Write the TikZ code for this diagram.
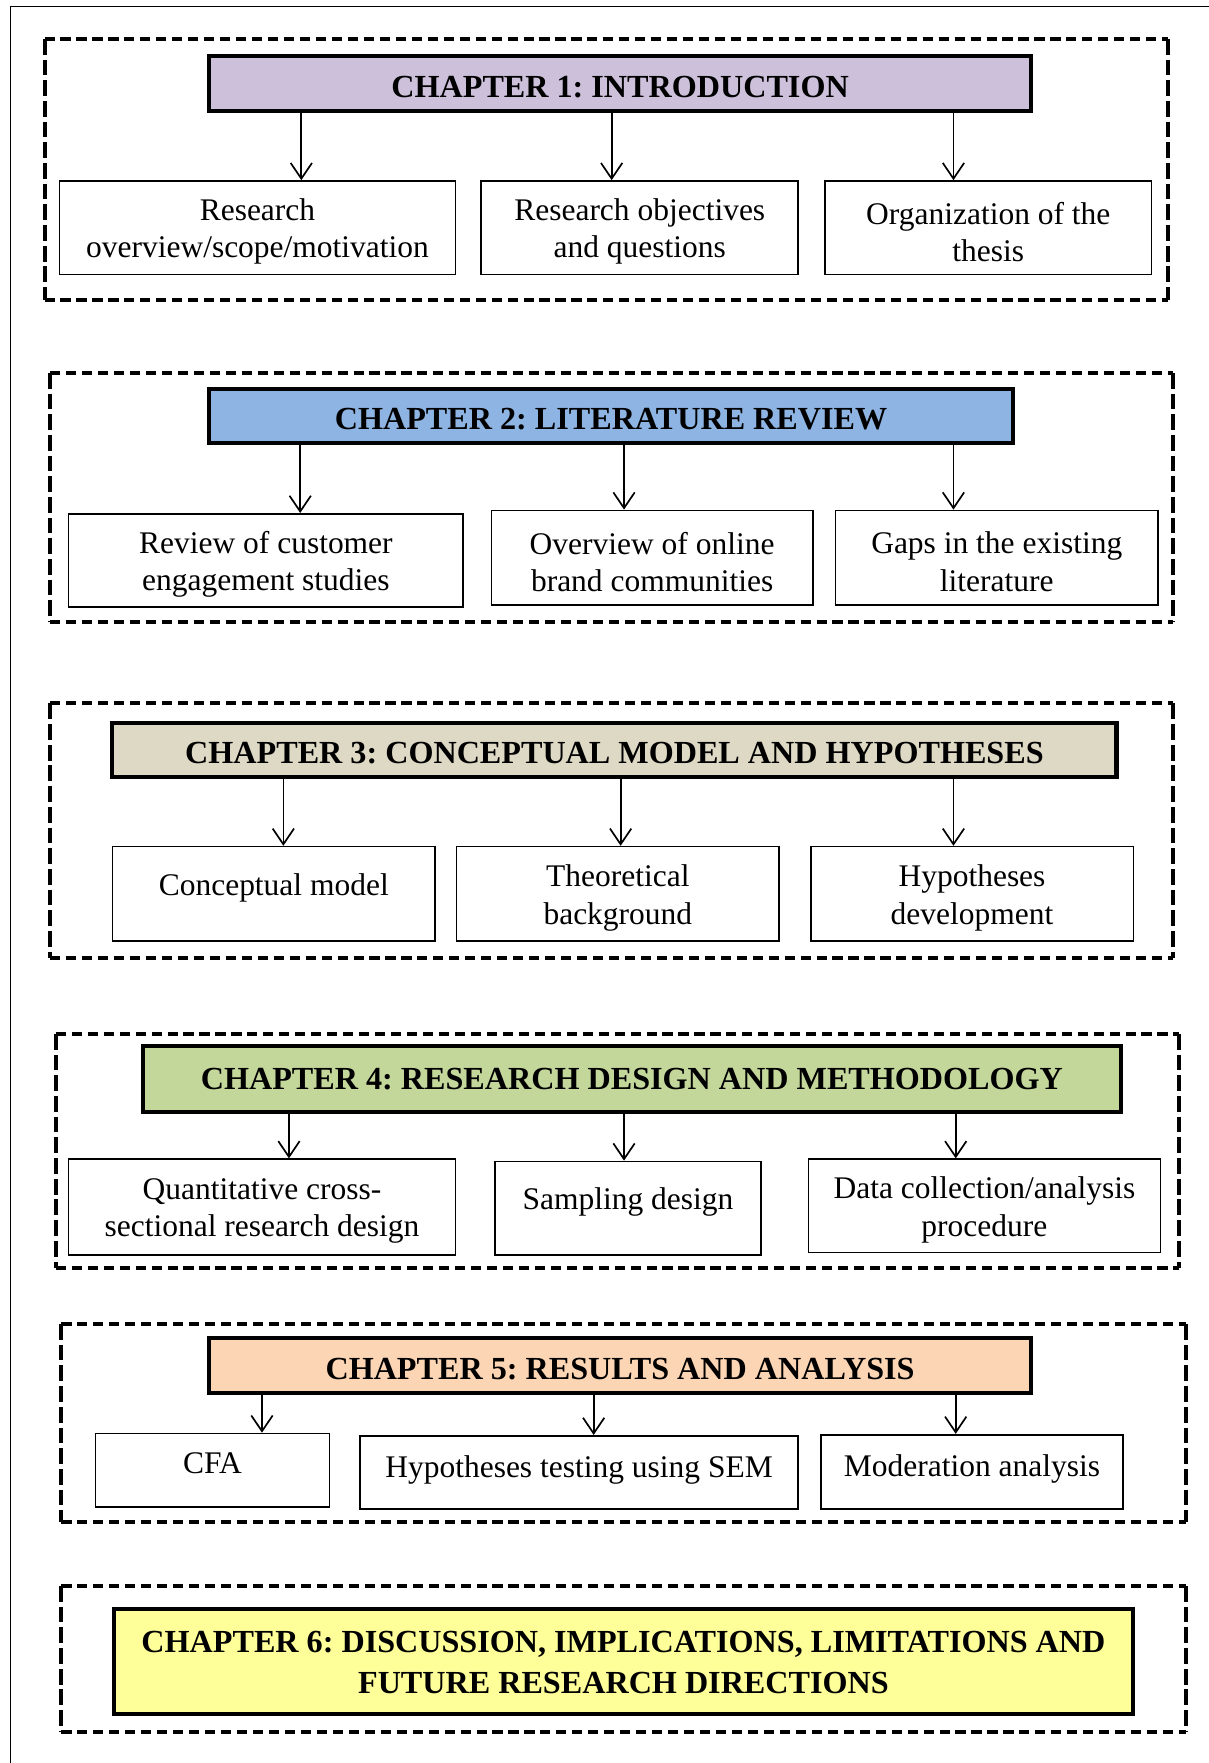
\documentclass[tikz,border=0pt]{standalone}
\usepackage{fontspec}
\setmainfont{Liberation Serif}
\frenchspacing
\usetikzlibrary{arrows.meta,fit,calc}
\definecolor{chone}{HTML}{CCC0DA}
\definecolor{chtwo}{HTML}{8DB4E2}
\definecolor{chthree}{HTML}{DDD9C4}
\definecolor{chfour}{HTML}{C4D79B}
\definecolor{chfive}{HTML}{FCD5B4}
\definecolor{chsix}{HTML}{FFFF99}
\begin{document}
\begin{tikzpicture}[x=0.5pt,y=-0.5pt,
  pageline/.style={line width=0.5pt},
  group/.style={inner sep=0pt},
  hdash/.style={line width=1.8pt, dash pattern=on 4.5pt off 2.6pt},
  vdash/.style={line width=1.8pt, dash pattern=on 7pt off 2.2pt},
  head/.style={draw, line width=1.8pt, inner sep=0pt},
  headtext/.style={align=center, yshift=-1.5pt,
    font=\fontsize{14.3}{18.5}\selectfont\bfseries},
  sub/.style={draw, line width=0.75pt, inner sep=0pt},
  subtext/.style={align=center, yshift=-1.8pt,
    font=\fontsize{14}{16.5}\selectfont},
  link/.style={line width=0.75pt, -{Straight Barb[length=7pt,width=9.5pt,line width=0.75pt]}}]
\useasboundingbox (0,0) rectangle (1075,1568);
% page rule on the top and left
\draw[pageline] (9,1568) -- (9,6) -- (1075,6);

% dashed outline of a chapter group: long dashes on the sides, short ones on top and bottom
\newcommand\groupframe[1]{%
  \draw[hdash] (#1.north west) -- (#1.north east);
  \draw[hdash] (#1.south west) -- (#1.south east);
  \draw[vdash] (#1.north west) -- (#1.south west);
  \draw[vdash] (#1.north east) -- (#1.south east);}

% ---------- Chapter 1 ----------
\node[group, fit={(40,35)(1038,266)}] (g1) {};
\groupframe{g1}
\node[head, fill=chone, fit={(186,50)(917,99)}] (h1) {};
\node[headtext] at (h1.center) {CHAPTER 1: INTRODUCTION};
\node[sub, fit={(53,161)(405,244)}] (a1) {};
\node[sub, fit={(428,161)(710,244)}] (b1) {};
\node[sub, fit={(734,161)(1024,244)}] (c1) {};
\node[subtext] at (a1.center) {Research\\overview/scope/motivation};
\node[subtext] at (b1.center) {Research objectives\\and questions};
\node[subtext] at (c1.center) {Organization of the\\thesis};
\coordinate (ta1) at ($(a1.north)+(39,0)$);
\coordinate (tb1) at ($(b1.north)+(-25,0)$);
\coordinate (tc1) at ($(c1.north)+(-31,0)$);
\foreach \t in {ta1,tb1,tc1} \draw[link] (h1.south -| \t) -- (\t);

% ---------- Chapter 2 ----------
\node[group, fit={(45,332)(1043,553)}] (g2) {};
\groupframe{g2}
\node[head, fill=chtwo, fit={(186,346)(901,394)}] (h2) {};
\node[headtext] at (h2.center) {CHAPTER 2: LITERATURE REVIEW};
\node[sub, fit={(61,457)(412,540)}] (a2) {};
\node[sub, fit={(437,454)(723,538)}] (b2) {};
\node[sub, fit={(743,454)(1030,538)}] (c2) {};
\node[subtext] at (a2.center) {Review of customer\\engagement studies};
\node[subtext] at (b2.center) {Overview of online\\brand communities};
\node[subtext] at (c2.center) {Gaps in the existing\\literature};
\coordinate (ta2) at ($(a2.north)+(30.5,0)$);
\coordinate (tb2) at ($(b2.north)+(-25,0)$);
\coordinate (tc2) at ($(c2.north)+(-38.5,0)$);
\foreach \t in {ta2,tb2,tc2} \draw[link] (h2.south -| \t) -- (\t);

% ---------- Chapter 3 ----------
\node[group, fit={(45,626)(1043,852)}] (g3) {};
\groupframe{g3}
\node[head, fill=chthree, fit={(100,643)(993,691)}] (h3) {};
\node[headtext] at (h3.center) {CHAPTER 3: CONCEPTUAL MODEL AND HYPOTHESES};
\node[sub, fit={(100,753)(387,837)}] (a3) {};
\node[sub, fit={(406,753)(693,837)}] (b3) {};
\node[sub, fit={(721,753)(1008,837)}] (c3) {};
\node[subtext] at ($(a3.center)+(0,-9)$) {Conceptual model};
\node[subtext] at (b3.center) {Theoretical\\background};
\node[subtext] at (c3.center) {Hypotheses\\development};
\coordinate (ta3) at ($(a3.north)+(8.5,0)$);
\coordinate (tb3) at ($(b3.north)+(2.5,0)$);
\coordinate (tc3) at ($(c3.north)+(-16.5,0)$);
\foreach \t in {ta3,tb3,tc3} \draw[link] (h3.south -| \t) -- (\t);

% ---------- Chapter 4 ----------
\node[group, fit={(50,920)(1048,1127)}] (g4) {};
\groupframe{g4}
\node[head, fill=chfour, fit={(127,930)(997,989)}] (h4) {};
\node[headtext, yshift=1.5pt] at (h4.center) {CHAPTER 4: RESEARCH DESIGN AND METHODOLOGY};
\node[sub, fit={(61,1031)(405,1116)}] (a4) {};
\node[sub, fit={(440,1033)(677,1116)}] (b4) {};
\node[sub, fit={(719,1031)(1032,1114)}] (c4) {};
\node[subtext] at (a4.center) {Quantitative cross-\\sectional research design};
\node[subtext] at ($(b4.center)+(0,-9)$) {Sampling design};
\node[subtext] at (c4.center) {Data collection/analysis\\procedure};
\coordinate (ta4) at ($(a4.north)+(24,0)$);
\coordinate (tb4) at ($(b4.north)+(-3.5,0)$);
\coordinate (tc4) at ($(c4.north)+(-25.5,0)$);
\foreach \t in {ta4,tb4,tc4} \draw[link] (h4.south -| \t) -- (\t);

% ---------- Chapter 5 ----------
\node[group, fit={(55,1178)(1054,1353)}] (g5) {};
\groupframe{g5}
\node[head, fill=chfive, fit={(186,1190)(917,1239)}] (h5) {};
\node[headtext] at (h5.center) {CHAPTER 5: RESULTS AND ANALYSIS};
\node[sub, fit={(85,1275)(293,1340)}] (a5) {};
\node[sub, fit={(320,1277)(710,1342)}] (b5) {};
\node[sub, fit={(730,1276)(999,1342)}] (c5) {};
\node[subtext] at ($(a5.center)+(0,-10)$) {CFA};
\node[subtext] at ($(b5.center)+(0,-6)$) {Hypotheses testing using SEM};
\node[subtext] at ($(c5.center)+(0,-6)$) {Moderation analysis};
\coordinate (ta5) at ($(a5.north)+(44,0)$);
\coordinate (tb5) at ($(b5.north)+(13,0)$);
\coordinate (tc5) at ($(c5.north)+(-14.5,0)$);
\foreach \t in {ta5,tb5,tc5} \draw[link] (h5.south -| \t) -- (\t);

% ---------- Chapter 6 ----------
\node[group, fit={(55,1411)(1054,1540)}] (g6) {};
\groupframe{g6}
\node[head, fill=chsix, fit={(101,1431)(1008,1524)}] (h6) {};
\node[headtext, yshift=1pt] at (h6.center) {CHAPTER 6: DISCUSSION, IMPLICATIONS, LIMITATIONS AND\\FUTURE RESEARCH DIRECTIONS};
\end{tikzpicture}
\end{document}
